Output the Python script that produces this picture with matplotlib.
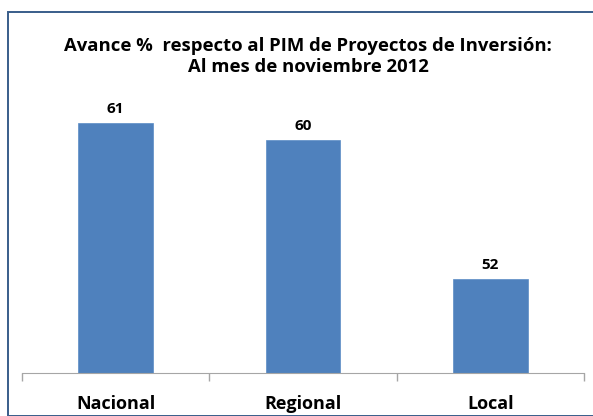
import matplotlib.pyplot as plt
from matplotlib.patches import Rectangle
import numpy as np

plt.rcParams['font.family'] = ['Open Sans', 'DejaVu Sans']

categorias = ['Nacional', 'Regional', 'Local']
avance = [61, 60, 52]
titulo = 'Avance %  respecto al PIM de Proyectos de Inversión:\nAl mes de noviembre 2012'

W, H = 593, 416
fig = plt.figure(figsize=(W / 100, H / 100), dpi=100)

# marco exterior del grafico
fig.patches.append(Rectangle((8 / W, 0), 1, 1 - 12 / H, transform=fig.transFigure,
                             fill=False, edgecolor='#385D8A', linewidth=1.4))

ax = fig.add_axes([22 / W, 43 / H, 562 / W, 273 / H])
x = np.arange(len(categorias))
barras = ax.bar(x, avance, width=0.4, color='#4F81BD', edgecolor='#5B8CC6', linewidth=0.5)

ax.set_xlim(-0.5, len(categorias) - 0.5)
ax.set_ylim(46.58, 62.33)

for xi, v in zip(x, avance):
    ax.annotate(str(v), (xi, v), xytext=(0, 5), textcoords='offset points',
                ha='center', va='bottom', fontsize=11, fontweight='bold')

for s in ['top', 'right', 'left']:
    ax.spines[s].set_visible(False)
ax.spines['bottom'].set_color('#A6A6A6')
ax.set_yticks([])
ax.set_xticks(x)
ax.set_xticklabels(categorias, fontsize=13, fontweight='bold')
ax.tick_params(axis='x', which='major', length=0, pad=16)
ax.set_xticks(np.arange(-0.5, len(categorias)), minor=True)
ax.tick_params(axis='x', which='minor', length=6, color='#A6A6A6', width=1)

fig.text(308 / W, 1 - 56.5 / H, titulo, ha='center', va='center', fontsize=13.3,
         fontweight='bold', linespacing=1.2)

fig.savefig('out.png', dpi=100)
